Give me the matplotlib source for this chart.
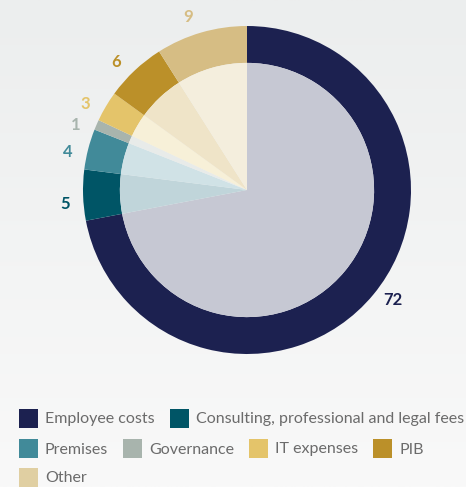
import numpy as np
import matplotlib
matplotlib.use('Agg')
import matplotlib.pyplot as plt
from matplotlib.patches import Rectangle

categories = ['Employee costs', 'Consulting, professional and legal fees',
              'Premises', 'Governance', 'IT expenses', 'PIB', 'Other']
values = [72, 5, 4, 1, 3, 6, 9]
outer_colors = ['#1c2150', '#005566', '#418a99', '#a8b4ad', '#e4c46a', '#bb9029', '#d6bd84']
inner_colors = ['#c6c8d3', '#c0d5da', '#d0e2e6', '#e8ebe9', '#f7f0d8', '#efe4c8', '#f4eedd']
legend_colors = ['#1c2150', '#005566', '#418a99', '#a8b4ad', '#e4c46a', '#bb9029', '#e0cfa2']
label_colors = ['#1c2150', '#005566', '#418a99', '#a8b4ad', '#e4c46a', '#bb9029', '#d6bd84']
legend_rows = [[0, 1], [2, 3, 4, 5], [6]]

plt.rcParams['font.family'] = ['Lato', 'DejaVu Sans']

W, H = 466, 487
fig = plt.figure(figsize=(W / 100, H / 100), dpi=100)

# soft background gradient
bg = fig.add_axes([0, 0, 1, 1])
grad = np.linspace(0, 1, 256)[:, None]
bg.imshow(grad, aspect='auto', cmap=matplotlib.colors.LinearSegmentedColormap.from_list(
    'bg', ['#eceeee', '#f9f9f9']), extent=[0, 1, 0, 1])
bg.axis('off')

# pie axes: centre (247, 190) from top, radius 164 px
cx, cy, R = 247, 190, 164
ax = fig.add_axes([(cx - R) / W, (H - cy - R) / H, 2 * R / W, 2 * R / H])
ax.axis('off')

wedges, _ = ax.pie(values, colors=outer_colors, startangle=90, counterclock=False,
                   radius=1.0, wedgeprops=dict(width=0.225, linewidth=0))
ax.pie(values, colors=inner_colors, startangle=90, counterclock=False,
       radius=0.775, wedgeprops=dict(linewidth=0))
ax.set_xlim(-1, 1)
ax.set_ylim(-1, 1)

for w, v, col in zip(wedges, values, label_colors):
    ang = np.deg2rad((w.theta1 + w.theta2) / 2 + 2.5)
    d = 1.115
    ax.text(d * np.cos(ang), d * np.sin(ang), str(v), color=col, fontsize=12,
            fontweight='bold', ha='center', va='center')

# legend, flowing rows
fig.canvas.draw()
renderer = fig.canvas.get_renderer()
row_y = [418, 448, 477]
sq = 19
for row, yc in zip(legend_rows, row_y):
    x = 19
    for i in row:
        fig.patches.append(Rectangle((x / W, (H - yc - sq / 2) / H), sq / W, sq / H,
                                     transform=fig.transFigure, facecolor=legend_colors[i],
                                     edgecolor='none'))
        t = fig.text((x + sq + 7) / W, (H - yc) / H, categories[i], fontsize=11.5,
                     color='#6b6b6b', ha='left', va='center_baseline')
        tw = t.get_window_extent(renderer).width
        x = x + sq + 7 + tw + 15

fig.savefig('out.png', dpi=100)
